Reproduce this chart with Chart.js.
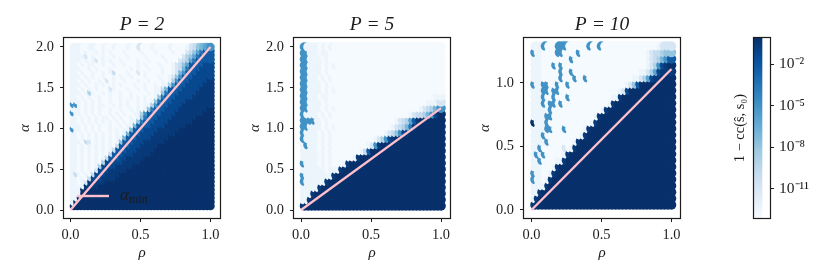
<!DOCTYPE html>
<html>
<head>
<meta charset="utf-8">
<style>
html,body{margin:0;padding:0;background:#fff;width:830px;height:277px;overflow:hidden}
canvas{position:absolute;top:0}
</style>
<script src="https://cdn.jsdelivr.net/npm/chart.js@4/dist/chart.umd.js"></script>
</head>
<body>
<canvas id="c1" width="284" height="277" style="left:0"></canvas>
<canvas id="c2" width="284" height="277" style="left:230px"></canvas>
<canvas id="c3" width="284" height="277" style="left:460px"></canvas>
<canvas id="c4" width="140" height="277" style="left:690px"></canvas>
<script>
// ---------- data ----------
const rhoColumns = [0.025,0.05,0.075,0.1,0.125,0.15,0.175,0.2,0.225,0.25,0.275,0.3,0.325,0.35,0.375,0.4,0.425,0.45,0.475,0.5,0.525,0.55,0.575,0.6,0.625,0.65,0.675,0.7,0.725,0.75,0.775,0.8,0.825,0.85,0.875,0.9,0.925,0.95,0.975,1.0];
const alphaRowsP2 = [2.0,1.95,1.9,1.85,1.8,1.75,1.7,1.65,1.6,1.55,1.5,1.45,1.4,1.35,1.3,1.25,1.2,1.15,1.1,1.05,1.0,0.95,0.9,0.85,0.8,0.75,0.7,0.65,0.6,0.55,0.5,0.45,0.4,0.35,0.3,0.25,0.2,0.15,0.1,0.05];
const alphaRowsP5 = [2.0,1.925,1.85,1.775,1.7,1.625,1.55,1.475,1.4,1.325,1.25,1.175,1.1,1.025,0.95,0.875,0.8,0.725,0.65,0.575,0.5,0.425,0.35,0.275,0.2,0.125,0.05];
const alphaRowsP10 = [1.29,1.24,1.19,1.14,1.09,1.04,0.99,0.94,0.89,0.84,0.79,0.74,0.69,0.64,0.59,0.54,0.49,0.44,0.39,0.34,0.29,0.24,0.19,0.14,0.09,0.04];

// each character indexes levelExponents (0-9, a-d); 1-cc = 10^-exponent; rows top to bottom
const levelExponents = [0.1,0.6,1.3,2.2,3.6,5,6,7,8,9,10,11,12.5,13];

const gridP2 = [
"cccddccddc ddcdddcddb dddcddddcd dddcba8765",
"cccdcddcdc dcdddcdddd cdddcddddc dddba86433",
"ccccbdcddc ddcdddcddd dcddddcddd ddb9864333",
"cccdcdcbdc dcddcddddc ddcddddcdd dba9643333",
"ccdcdccddc ddcddcdddc dcdddcdddc ba86333322",
"cccddcdcdd dcdddddcdc ddcdddcddc ba74333222",
"ccdcddcddc dcadddcddb dcddddcddc b753332222",
"cccdcdcddc ddcdcddcdd dcdddcddcb 8533322222",
"ccdcdcddcd bdcddcdddc ddcdddcdc9 5333222221",
"cccdcddcdc ddcdcdddcd dcddcdcc95 3332222211",
"ccdcdcdcdd dbcdddcddc dcddcca733 3322222111",
"cccdc9cddc dcddcddcdd ddcdcc8433 3222221111",
"ccdcdcddcd dcddcddcdc dcddc84333 2222211111",
"cccdcdcdcd dcddcdcddc dcdc843332 2221111111",
"55cdcdcdcc ddcdcdcddc dcc9533322 2211111111",
"cccdcdcdcd dcddcddcdc dc84333222 2111111110",
"5ccdcdcdcd dcdcdcddcc 9533332222 1111111100",
"ccdcdcdcdc cdcdcddcdc 8433322221 1111110000",
"ccdcdcdcdc dcdcdcdcc8 4333222211 1111100000",
"cccdcdcdcd dcddcdcc73 3332222111 1110000000",
"5ccdcdcdcd dcdcdcc733 3222211111 1000000000",
"ccdcdcdcdc dcdcdc7333 2222111111 0000000000",
"ccdcdcdcdc dcdcc73332 2221111100 0000000000",
"cccdabdcdc dcdc833322 2111111000 0000000000",
"ccdcdcdcdc dcda333222 1111100000 0000000000",
"ccdcdcdcdc dca3332221 1111000000 0000000000",
"ccdcdcdcdc da33322211 1110000000 0000000000",
"ccdcdcdcdc a333221111 1000000000 0000000000",
"ccdcdcdcd9 2222211111 0000000000 0000000000",
"ccdcdcdc92 2221111100 0000000000 0000000000",
"ccdcdcdb22 2111110000 0000000000 0000000000",
"cacdcda222 1111000000 0000000000 0000000000",
"ccdcda2221 1110000000 0000000000 0000000000",
"ccdcb11111 0000000000 0000000000 0000000000",
"cccc111100 0000000000 0000000000 0000000000",
"ccc0000000 0000000000 0000000000 0000000000",
"ccc0000000 0000000000 0000000000 0000000000",
"cc00000000 0000000000 0000000000 0000000000",
"c000000000 0000000000 0000000000 0000000000",
"0000000000 0000000000 0000000000 0000000000"];

const gridP5 = [
"5ccccdcdcd dddddddddd dddddddddd dddddddddd",
"55cccdccdd dddddddddd dddddddddd dddddddddd",
"55ccccdcdd dddddddddd dddddddddd dddddddddd",
"55ccccdcdc dddddddddd dddddddddd dddddddddd",
"55ccccdcdd dddddddddd dddddddddd dddddddddd",
"55cccdcdcd dddddddddd dddddddddd dddddddddd",
"55ccccdcdd dddddddddd dddddddddd dddddddddd",
"55ccccdcdc dddddddddd dddddddddd dddddddddd",
"55cccdccdd dddddddddd dddddddddd ddddddddcc",
"55ccccdcdd dddddddddd dddddddddd ddddddcccb",
"55ccccdcdc dddddddddd dddddddddd ddddcba975",
"5ccccdcdcd dddddddddd dddddddddd dcbaa97520",
"5555ccdcdd dddddddddd dddddddcba 9631000000",
"55ccccdcdc dddddddddd ddddddcba9 7410000000",
"5ccccdcdcd dddddddddd ddddcba852 1000000000",
"5ccccdcdcd dddddddddd dcb9521000 0000000000",
"c5cccdcdcd dddddddddc b510000000 0000000000",
"cccccdcdcd dddddddca3 0000000000 0000000000",
"cccccdcdcd dddddc1000 0000000000 0000000000",
"5ccccdcdcd ddc1000000 0000000000 0000000000",
"cccccccdcc c100000000 0000000000 0000000000",
"5cccccccc1 0000000000 0000000000 0000000000",
"5cccccc100 0000000000 0000000000 0000000000",
"ccccc10000 0000000000 0000000000 0000000000",
"ccc1000000 0000000000 0000000000 0000000000",
"cc10000000 0000000000 0000000000 0000000000",
"1000000000 0000000000 0000000000 0000000000"];

const gridP10 = [
"ccc5ddd555 dddddd5dd5 dddddddddd ddddddcbbb",
"5ccdddd55d ddd5dddddd dddddddddd dddcbaa988",
"cccddddddd d5dddddddd dddddddddd dddcba9753",
"cccddd5d5d dddddddddd dddddddddd dddcb95210",
"cccddddd5d d5dddddddd dddddddddd dccb962111",
"cccddddd5d dd5dd5dddd dddddddddc cb96211000",
"5cc55dd5dd 5ddddddddd dddddddcb8 3000000000",
"ccc55d55dd dddddddddd dddddcb200 0000000000",
"ccc5dd5ddd 5ddddddddd dddcc10000 0000000000",
"ccc5d55d5d dddddddddd ddc1000000 0000000000",
"ccccc5dddd dddddddddd c100000000 0000000000",
"cccc55dddd ddddddddc1 0000000000 0000000000",
"0ccc5ddddd dddddddc10 0000000000 0000000000",
"cccc55ddd5 dddddc1000 0000000000 0000000000",
"ccc5dddddd ddddc10000 0000000000 0000000000",
"cccc5ddddd ddc1000000 0000000000 0000000000",
"cc5ddddddb dc10000000 0000000000 0000000000",
"c5c5dddddc 1000000000 0000000000 0000000000",
"cc5ddddcc1 0000000000 0000000000 0000000000",
"cccdddc100 0000000000 0000000000 0000000000",
"5ccddc1000 0000000000 0000000000 0000000000",
"5ccdc10000 0000000000 0000000000 0000000000",
"cccc100000 0000000000 0000000000 0000000000",
"cc10000000 0000000000 0000000000 0000000000",
"c100000000 0000000000 0000000000 0000000000",
"1000000000 0000000000 0000000000 0000000000"];

const titles = ["P = 2","P = 5","P = 10"];
const lineTopP2 = 2.0, lineTopP5 = 1.25, lineTopP10 = 1.11;   // alpha_min at rho = 1
const rhoTicks = [0,0.5,1];
const alphaTicksTall = [0,0.5,1,1.5,2];
const alphaTicksP10 = [0,0.5,1];
const cbarExtent = [-13.14,-0.1];        // log10 range of the colour scale
const cbarTicks = [1e-2,1e-5,1e-8,1e-11];
const cbarLabels = ["10\u207B\u00B2","10\u207B\u2075","10\u207B\u2078","10\u207B\u00B9\u00B9"];
const legendLabel = "\u03B1", legendSub = "min";
const pink = "#ffc0cb";
const bluesStops = ["#f7fbff","#deebf7","#c6dbef","#9ecae1","#6baed6","#4292c6","#2171b5","#08519c","#08306b"];

// ---------- helpers ----------
const ink = "#1c1c1c", serif = "'Liberation Serif', serif";
function hex(c){return [1,3,5].map(i=>parseInt(c.substr(i,2),16));}
function blues(logv){
  let t=(logv-cbarExtent[0])/(cbarExtent[1]-cbarExtent[0]);
  t=Math.max(0,Math.min(1,t))*(bluesStops.length-1);
  const i=Math.min(Math.floor(t),bluesStops.length-2),f=t-i,a=hex(bluesStops[i]),b=hex(bluesStops[i+1]);
  return "rgb("+a.map((v,k)=>Math.round(v+(b[k]-v)*f)).join(",")+")";
}
function points(grid,rows){
  const g=grid.map(r=>r.replace(/ /g,""));
  const pts=[];
  rhoColumns.forEach((rho,c)=>{
    for(let r=rows.length-1;r>=0;r--){
      const ch=g[r][c];
      if(ch===undefined) continue;
      pts.push({x:rho,y:rows[r],v:-levelExponents[parseInt(ch,16)]});
    }
  });
  return pts;
}
const framePlugin={id:"frame",afterDraw(ch){
  const a=ch.chartArea,c=ch.ctx;
  c.save();c.strokeStyle=ink;c.lineWidth=1.2;
  c.strokeRect(a.left-0.5,a.top-0.5,a.right-a.left+1,a.bottom-a.top+1);
  c.restore();
}};
const legendPlugin={id:"alphaLegend",afterDatasetsDraw(ch){
  const a=ch.chartArea,c=ch.ctx,y=a.top+158;
  c.save();
  c.strokeStyle=pink;c.lineWidth=2.4;
  c.beginPath();c.moveTo(a.left+13,y);c.lineTo(a.left+45,y);c.stroke();
  c.fillStyle=ink;c.textBaseline="alphabetic";
  c.font="italic 17px "+serif;c.fillText(legendLabel,a.left+56,y+4);
  c.font="12px "+serif;c.fillText(legendSub,a.left+65,y+7);
  c.restore();
}};
function panel(id,grid,rows,top,title,yTicks,xr,yr,radius,extra){
  return new Chart(document.getElementById(id),{
    type:"scatter",
    data:{datasets:[
      {label:"alpha_min",data:[{x:0,y:0},{x:1,y:top}],showLine:true,pointRadius:0,borderColor:pink,borderWidth:2.4,order:0},
      {label:"1-cc",data:points(grid,rows),showLine:false,pointRadius:radius,pointBorderWidth:0,borderWidth:0,
       pointBackgroundColor:ctx=>blues(ctx.raw.v),order:1}
    ]},
    options:{
      responsive:false,animation:false,devicePixelRatio:1,events:[],
      layout:{padding:0},
      plugins:{legend:{display:false},tooltip:{enabled:false},
        title:{display:true,text:title,color:ink,font:{family:serif,size:19.5,style:"italic",weight:"normal",lineHeight:1.2},padding:{top:13,bottom:1.6}}},
      scales:{
        x:{type:"linear",min:xr[0],max:xr[1],
          afterBuildTicks:s=>{s.ticks=rhoTicks.map(v=>({value:v}));},
          afterFit:s=>{s.height=59;},
          grid:{drawOnChartArea:false,tickLength:4,color:ink,tickWidth:1},border:{display:false},
          ticks:{color:ink,font:{family:serif,size:14.4},padding:5,maxRotation:0,callback:v=>Number(v).toFixed(1)},
          title:{display:true,text:"\u03C1",color:ink,font:{family:serif,size:15,style:"italic"},padding:{top:0,bottom:15}}},
        y:{type:"linear",min:yr[0],max:yr[1],
          afterBuildTicks:s=>{s.ticks=yTicks.map(v=>({value:v}));},
          afterFit:s=>{s.width=64;},
          grid:{drawOnChartArea:false,tickLength:4,color:ink,tickWidth:1},border:{display:false},
          ticks:{color:ink,font:{family:serif,size:14.4},padding:6,callback:v=>Number(v).toFixed(1)},
          title:{display:true,text:"\u03B1",color:ink,font:{family:serif,size:15,style:"italic"},padding:{top:16,bottom:0}}},
        pad:{type:"linear",position:"right",min:0,max:1,afterFit:s=>{s.width=64;},
          grid:{display:false},border:{display:false},ticks:{display:false}}
      }
    },
    plugins:[framePlugin].concat(extra||[])
  });
}
const yTall=[-0.098,2.11];
panel("c1",gridP2,alphaRowsP2,lineTopP2,titles[0],alphaTicksTall,[-0.046,1.068],yTall,4.3,[legendPlugin]);
panel("c2",gridP5,alphaRowsP5,lineTopP5,titles[1],alphaTicksTall,[-0.05,1.064],yTall,4.8);
panel("c3",gridP10,alphaRowsP10,lineTopP10,titles[2],alphaTicksP10,[-0.0536,1.0607],[-0.063,1.354],4.8);

// colour bar
new Chart(document.getElementById("c4"),{
  type:"bar",
  data:{labels:["1-cc"],datasets:[{
    data:[[Math.pow(10,cbarExtent[0]),Math.pow(10,cbarExtent[1])]],
    barPercentage:1,categoryPercentage:1,borderWidth:0,
    backgroundColor:ctx=>{
      const a=ctx.chart.chartArea; if(!a) return bluesStops[5];
      const g=ctx.chart.ctx.createLinearGradient(0,a.bottom,0,a.top);
      bluesStops.forEach((c,i)=>g.addColorStop(i/(bluesStops.length-1),c));
      return g;
    }}]},
  options:{
    responsive:false,animation:false,devicePixelRatio:1,events:[],
    layout:{padding:{left:0,right:0,top:38,bottom:59}},
    plugins:{legend:{display:false},tooltip:{enabled:false}},
    scales:{
      x:{display:false,offset:false,grid:{display:false}},
      y:{type:"logarithmic",position:"right",min:Math.pow(10,cbarExtent[0]),max:Math.pow(10,cbarExtent[1]),
        afterBuildTicks:s=>{s.ticks=cbarTicks.map(v=>({value:v}));},
        afterFit:s=>{s.width=60;},
        grid:{drawOnChartArea:false,tickLength:4,color:ink,tickWidth:1},border:{display:false},
        ticks:{color:ink,font:{family:serif,size:15.5},padding:5,autoSkip:false,
          callback:(v,i)=>cbarLabels[i]}},
      t:{type:"linear",position:"left",min:0,max:1,display:true,
        afterFit:s=>{s.width=64;},
        grid:{display:false},border:{display:false},ticks:{display:false},
        title:{display:true,text:"1 \u2212 cc(s\u0302, s\u2080)",color:ink,font:{family:serif,size:14.4},padding:{top:42,bottom:0}}}
    }
  },
  plugins:[framePlugin]
});
</script>
</body>
</html>
